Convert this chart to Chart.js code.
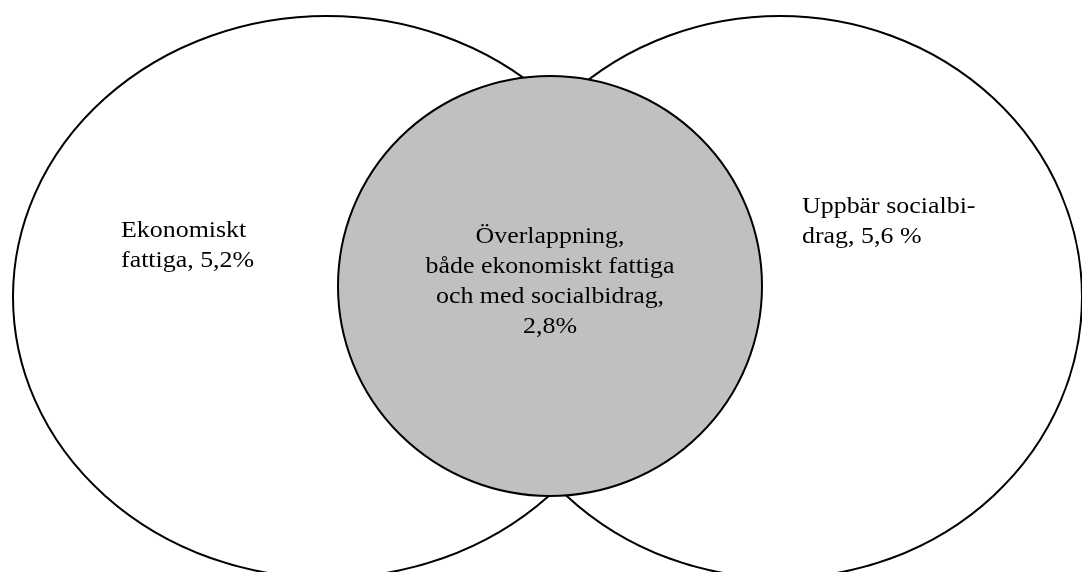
<!DOCTYPE html>
<html>
<head>
<meta charset="utf-8">
<script src="https://cdn.jsdelivr.net/npm/chart.js@4"></script>
<style>
  html, body { margin: 0; padding: 0; background: #fff; }
  #venn { display: block; }
</style>
</head>
<body>
<canvas id="venn" width="1082" height="572"></canvas>
<script>
// sets in the diagram (drawing order: the two big sets, then the overlap)
const setNames = ["Ekonomiskt fattiga", "Uppbär socialbidrag", "Överlappning"];
const setShares = [5.2, 5.6, 2.8];

// ellipse geometry in diagram units (same units as the hidden axes)
const centerX = [327, 780, 550];
const centerY = [297, 297, 286];
const radiusX = [314, 302, 212];
const radiusY = [281, 281, 210];

// label lines and anchor of each label
const labelLines = [
  ["Ekonomiskt", "fattiga, 5,2%"],
  ["Uppbär socialbi-", "drag, 5,6 %"],
  ["Överlappning,", "både ekonomiskt fattiga", "och med socialbidrag,", "2,8%"]
];
const labelX = [121, 802, 550];
const labelY = [237, 213, 243];
const labelAlign = ["left", "left", "center"];

const fills = ["#ffffff", "#ffffff", "#c0c0c0"];

const vennPlugin = {
  id: "venn",
  afterDatasetsDraw(chart) {
    const { ctx } = chart;
    const xs = chart.scales.x, ys = chart.scales.y;
    const shape = i => {
      const cx = xs.getPixelForValue(centerX[i]);
      const cy = ys.getPixelForValue(centerY[i]);
      const rx = Math.abs(xs.getPixelForValue(centerX[i] + radiusX[i]) - cx);
      const ry = Math.abs(ys.getPixelForValue(centerY[i] + radiusY[i]) - cy);
      ctx.beginPath();
      ctx.ellipse(cx, cy, rx, ry, 0, 0, Math.PI * 2);
    };
    ctx.save();
    ctx.lineWidth = 2;
    ctx.strokeStyle = "#000";
    // big sets: fill both, then outline both
    [0, 1].forEach(i => { shape(i); ctx.fillStyle = fills[i]; ctx.fill(); });
    [0, 1].forEach(i => { shape(i); ctx.stroke(); });
    // overlap on top
    shape(2); ctx.fillStyle = fills[2]; ctx.fill(); ctx.stroke();

    ctx.fillStyle = "#000";
    ctx.font = '24px "Liberation Serif", "Times New Roman", serif';
    ctx.textBaseline = "alphabetic";
    labelLines.forEach((lines, i) => {
      ctx.textAlign = labelAlign[i];
      const x = xs.getPixelForValue(labelX[i]);
      lines.forEach((t, k) => {
        ctx.save();
        ctx.translate(x, ys.getPixelForValue(labelY[i] + k * 30));
        ctx.scale(1.08, 1); // text in the original is slightly wide
        ctx.fillText(t, 0, 0);
        ctx.restore();
      });
    });
    ctx.restore();
  }
};

new Chart(document.getElementById("venn"), {
  type: "scatter",
  data: {
    datasets: [{
      label: "Andel (%)",
      data: setNames.map((n, i) => ({ x: centerX[i], y: centerY[i], v: setShares[i] })),
      pointRadius: 0
    }]
  },
  options: {
    responsive: false,
    animation: false,
    devicePixelRatio: 1,
    layout: { padding: 0 },
    plugins: { legend: { display: false }, tooltip: { enabled: false } },
    scales: {
      x: { type: "linear", min: 0, max: 1082, display: false },
      y: { type: "linear", min: 0, max: 572, reverse: true, display: false }
    }
  },
  plugins: [vennPlugin]
});
</script>
</body>
</html>
